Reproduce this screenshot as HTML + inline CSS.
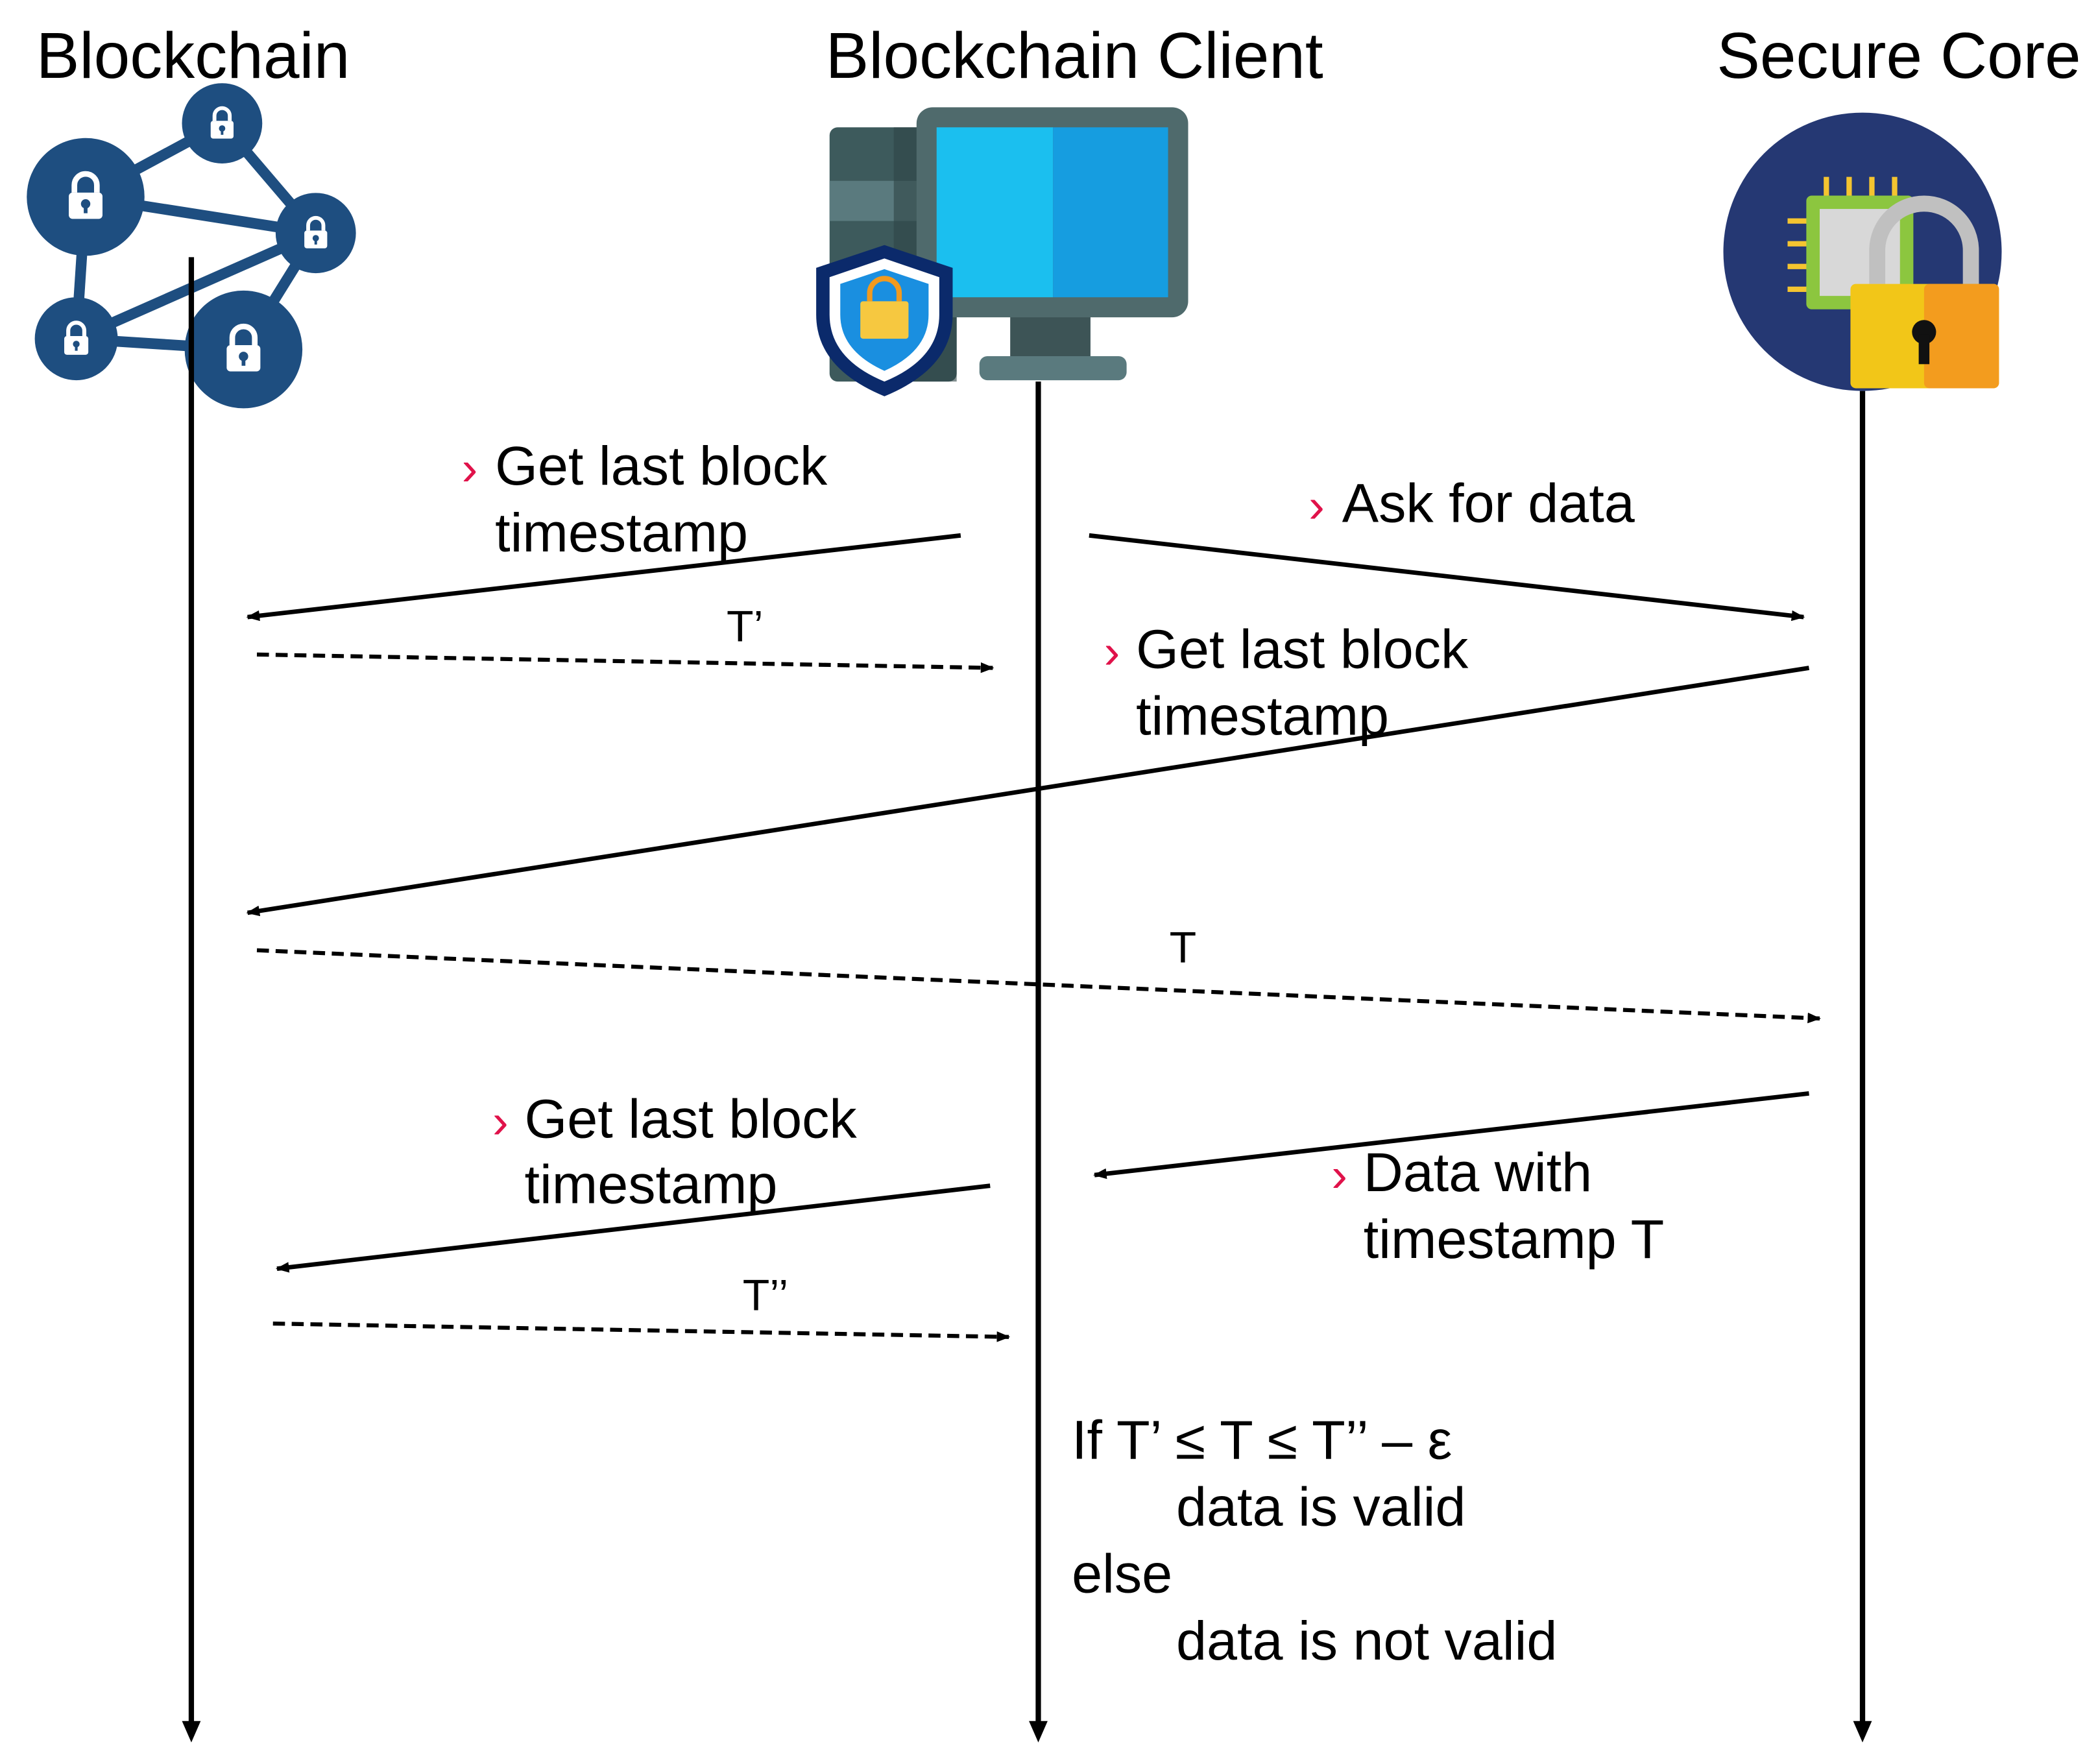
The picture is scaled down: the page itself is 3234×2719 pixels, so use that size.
<!DOCTYPE html>
<html><head><meta charset="utf-8"><style>
html,body{margin:0;padding:0;background:#fff}
svg{display:block}
text{font-family:"Liberation Sans",sans-serif;fill:#000}
</style></head><body>
<svg width="3234" height="2719" viewBox="0 0 1568 1318" xmlns="http://www.w3.org/2000/svg">
<defs>
<marker id="ah" markerWidth="10" markerHeight="8" refX="9" refY="4" orient="auto" markerUnits="userSpaceOnUse"><path d="M0,0 L10,4 L0,8 z" fill="#000"/></marker>
<g id="lk"><rect x="-9" y="-3" width="18" height="14" rx="2" fill="#fff"/><path d="M-6,-3 v-4 a6,6 0 0 1 12,0 v4" fill="none" stroke="#fff" stroke-width="3"/><circle cx="0" cy="3" r="2.5" fill="#1e4e80"/><rect x="-1" y="3" width="2" height="5" fill="#1e4e80"/></g>
</defs>

<text x="27" y="58" font-size="48.5">Blockchain</text>
<text x="617" y="58" font-size="48.5">Blockchain Client</text>
<text x="1283" y="58" font-size="48.5">Secure Core</text>

<g stroke="#1e4e80" stroke-width="8">
<line x1="64" y1="147" x2="166" y2="92"/><line x1="166" y1="92" x2="236" y2="174"/>
<line x1="64" y1="147" x2="236" y2="174"/><line x1="64" y1="147" x2="57" y2="253"/>
<line x1="57" y1="253" x2="236" y2="174"/><line x1="57" y1="253" x2="182" y2="261"/>
<line x1="182" y1="261" x2="236" y2="174"/>
</g>
<g fill="#1e4e80">
<circle cx="64" cy="147" r="44"/><circle cx="166" cy="92" r="30"/><circle cx="236" cy="174" r="30"/><circle cx="57" cy="253" r="31"/><circle cx="182" cy="261" r="44"/>
</g>
<use href="#lk" transform="translate(64,148) scale(1.4)"/>
<use href="#lk" transform="translate(166,93) scale(0.95)"/>
<use href="#lk" transform="translate(236,175) scale(0.95)"/>
<use href="#lk" transform="translate(57,254) scale(1)"/>
<use href="#lk" transform="translate(182,262) scale(1.4)"/>

<rect x="620" y="95" width="95" height="190" rx="6" fill="#3d5a5c"/>
<rect x="620" y="135" width="95" height="30" fill="#5a7a7e"/>
<rect x="668" y="95" width="47" height="190" fill="#2e4446" opacity="0.6"/>
<rect x="755" y="235" width="60" height="35" fill="#3d5456"/>
<rect x="732" y="266" width="110" height="18" rx="6" fill="#5a7a7e"/>
<rect x="685" y="80" width="203" height="157" rx="12" fill="#4f6a6c"/>
<rect x="700" y="95" width="87" height="127" fill="#1bbfef"/>
<rect x="787" y="95" width="86" height="127" fill="#169de0"/>
<path d="M661,183 L712,200 L712,235 Q712,275 661,296 Q610,275 610,235 L610,200 Z" fill="#0b2a6b"/>
<path d="M661,193 L702,207 L702,235 Q702,268 661,285 Q620,268 620,235 L620,207 Z" fill="#fff"/>
<path d="M661,201 L694,212 L694,235 Q694,262 661,277 Q628,262 628,235 L628,212 Z" fill="#1a8fe0"/>
<rect x="643" y="225" width="36" height="28" rx="2" fill="#f6c840"/>
<path d="M650,225 v-6 a11,11 0 0 1 22,0 v6" fill="none" stroke="#f29a1e" stroke-width="4"/>

<circle cx="1392" cy="188" r="104" fill="#253873"/>
<g stroke="#f4c430" stroke-width="4">
<line x1="1365" y1="132" x2="1365" y2="148"/><line x1="1382" y1="132" x2="1382" y2="148"/><line x1="1399" y1="132" x2="1399" y2="148"/><line x1="1416" y1="132" x2="1416" y2="148"/>
<line x1="1336" y1="165" x2="1352" y2="165"/><line x1="1336" y1="182" x2="1352" y2="182"/><line x1="1336" y1="199" x2="1352" y2="199"/><line x1="1336" y1="216" x2="1352" y2="216"/>
</g>
<rect x="1350" y="146" width="80" height="85" rx="4" fill="#8cc63f"/>
<rect x="1360" y="156" width="60" height="65" fill="#d8d8d8"/>
<path d="M1403,212 v-25 a35,35 0 0 1 70,0 v25" fill="none" stroke="#c0c0c0" stroke-width="12"/>
<rect x="1383" y="212" width="111" height="78" rx="4" fill="#f2c618"/>
<rect x="1438" y="212" width="56" height="78" rx="4" fill="#f39c1e"/>
<circle cx="1438" cy="248" r="9" fill="#111"/><rect x="1434" y="250" width="8" height="22" fill="#111"/>

<g stroke="#000" stroke-width="4">
<line x1="143" y1="192" x2="143" y2="1296"/>
<line x1="776" y1="285" x2="776" y2="1296"/>
<line x1="1392" y1="292" x2="1392" y2="1296"/>
</g>
<g fill="#000">
<path d="M136,1286 L150,1286 L143,1302 z"/><path d="M769,1286 L783,1286 L776,1302 z"/><path d="M1385,1286 L1399,1286 L1392,1302 z"/>
</g>

<g stroke="#000" stroke-width="3.3" fill="none" marker-end="url(#ah)">
<line x1="718" y1="400" x2="185" y2="461"/>
<line x1="814" y1="400" x2="1348" y2="461"/>
<line x1="1352" y1="499" x2="185" y2="682"/>
<line x1="1352" y1="817" x2="818" y2="878"/>
<line x1="740" y1="886" x2="207" y2="948"/>
<g stroke-dasharray="9,5" stroke-width="3">
<line x1="192" y1="489" x2="742" y2="499"/>
<line x1="192" y1="710" x2="1360" y2="761"/>
<line x1="204" y1="989" x2="754" y2="999"/>
</g>
</g>

<g font-size="41">
<text x="345" y="362"><tspan fill="#e0124a" font-size="36">›</tspan><tspan x="370">Get last block</tspan></text>
<text x="370" y="412">timestamp</text>
<text x="978" y="390"><tspan fill="#e0124a" font-size="36">›</tspan><tspan x="1003">Ask for data</tspan></text>
<text x="825" y="499"><tspan fill="#e0124a" font-size="36">›</tspan><tspan x="849">Get last block</tspan></text>
<text x="849" y="549">timestamp</text>
<text x="368" y="850"><tspan fill="#e0124a" font-size="36">›</tspan><tspan x="392">Get last block</tspan></text>
<text x="392" y="899">timestamp</text>
<text x="995" y="890"><tspan fill="#e0124a" font-size="36">›</tspan><tspan x="1019">Data with</tspan></text>
<text x="1019" y="940">timestamp T</text>
<text x="801" y="1090">If T’ ≤ T ≤ T’’ – ε</text>
<text x="879" y="1140">data is valid</text>
<text x="801" y="1190">else</text>
<text x="879" y="1240">data is not valid</text>
</g>
<g font-size="33">
<text x="543" y="479">T’</text>
<text x="874" y="719">T</text>
<text x="555" y="979">T’’</text>
</g>
</svg>
</body></html>
